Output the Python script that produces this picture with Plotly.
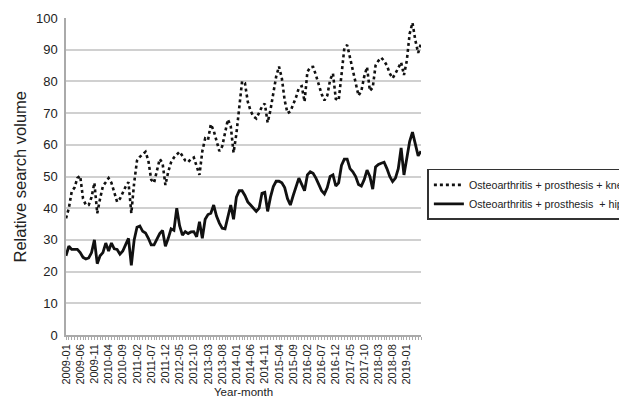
import plotly.graph_objects as go

# Monthly categories 2009-01 .. 2019-06
months = [f"{y}-{m:02d}" for y in range(2009, 2020) for m in range(1, 13)][:126]

knee = [36.8, 40, 45.2, 46.5, 49.5, 50.2, 43, 41, 41, 43.5,
        48, 38.4, 43, 47, 48.2, 49.5, 48, 45, 42, 43,
        45, 46.8, 48.2, 38.4, 48, 55, 56.2, 57, 57.8, 55,
        49, 48, 52, 55.5, 54.2, 47.3, 51.5, 54.5, 56, 57,
        57.8, 56.5, 55, 54.5, 55.5, 56, 53.5, 50.5, 58, 62,
        61.5, 66.5, 64.5, 61, 58, 59.5, 63.5, 68, 66, 57.5,
        63.5, 72, 80, 79.5, 73.6, 70.7, 69, 68.3, 70, 72,
        73, 67, 71, 76.5, 81.5, 84.7, 81, 74, 70, 70.5,
        72.5, 75, 78, 78.5, 73.6, 83, 84.5, 84.6, 82, 79,
        76, 74, 75.5, 80.5, 82.5, 74.5, 74, 82, 90.5, 91.5,
        87, 83.5, 79.5, 75.5, 77, 81.5, 84.5, 77, 78, 85,
        86.5, 87.5, 86.5, 85, 82.5, 81, 82.5, 84.5, 86, 82,
        86.5, 95, 98.5, 93, 89, 92]

hip = [25, 28, 27, 27, 27, 26, 24.5, 24, 24.3, 26,
       30, 22.5, 25, 26, 29, 26.5, 29, 27.2, 27, 25.5,
       26.5, 28.5, 30.5, 22, 30, 34, 34.4, 32.7, 32.2, 30.5,
       28.4, 28.4, 30.5, 32, 33, 28, 30.5, 33.5, 33, 40,
       34.5, 31.5, 32.6, 32, 32.5, 32.6, 31, 35.7, 30.5, 36.5,
       38, 38.4, 41, 37.5, 35.3, 33.7, 33.5, 37, 41, 36.5,
       43.5, 45.5, 45.5, 44, 42, 41, 40, 39, 40, 44.7,
       45, 39, 43.5, 46.8, 48.5, 48.5, 48, 46.5, 43, 41,
       44, 46.8, 49.5, 47.5, 45.5, 50.5, 51.5, 51, 49.5, 47.5,
       45.5, 44.5, 46.5, 50, 50.5, 47, 48, 53.5, 55.5, 55.5,
       52.5, 51.5, 50, 47.5, 47, 49, 52, 50, 46, 53,
       53.8, 54.2, 54.5, 52.5, 50, 48.4, 49.5, 52.5, 59, 50.5,
       56, 61, 64, 60, 56.5, 58]

tick_text = [m if (i % 5 == 0 and i <= 120) else "" for i, m in enumerate(months)]

series_names = ["Osteoarthritis + prosthesis + knee",
                "Osteoarthritis + prosthesis \u00a0+ hip"]

fig = go.Figure()
fig.add_trace(go.Scatter(x=months, y=knee, mode="lines", name=series_names[0],
                         line=dict(color="#111111", width=2.6, dash="dot")))
fig.add_trace(go.Scatter(x=months, y=hip, mode="lines", name=series_names[1],
                         line=dict(color="#111111", width=2.8)))

font_family = "Liberation Sans, Arial, sans-serif"

fig.update_layout(
    width=619, height=391,
    margin=dict(l=58, r=206, t=10, b=64, autoexpand=False),
    paper_bgcolor="white", plot_bgcolor="white",
    font=dict(family=font_family, color="#222222"),
    showlegend=True,
    legend=dict(x=1.018, xanchor="left", y=0.524, yanchor="top",
                bordercolor="#333333", borderwidth=1.5,
                font=dict(size=10.7, color="#222222"),
                tracegroupgap=2, itemwidth=30),
    xaxis=dict(type="category", range=[0, 125],
               tickmode="array", tickvals=months, ticktext=tick_text,
               tickangle=-90, tickfont=dict(size=11),
               ticks="outside", ticklen=3, tickcolor="#aaaaaa",
               showline=True, linecolor="#aaaaaa", linewidth=1.5,
               showgrid=False, zeroline=False),
    yaxis=dict(range=[0, 100], dtick=10, tickfont=dict(size=13),
               showgrid=True, gridcolor="#d0d0d0", gridwidth=1.5,
               showline=True, linecolor="#aaaaaa", linewidth=1.5,
               zeroline=False, ticks="", ticklabelstandoff=4),
    annotations=[
        dict(text="Year-month", xref="paper", yref="paper", x=0.5, y=-0.18,
             xanchor="center", yanchor="middle", showarrow=False,
             font=dict(size=11.5, color="#222222")),
        dict(text="Relative search volume", xref="paper", yref="paper",
             x=-0.1296, y=0.5, xanchor="center", yanchor="middle",
             textangle=-90, showarrow=False,
             font=dict(size=16.5, color="#222222")),
    ],
)

fig.write_html("out.html")
